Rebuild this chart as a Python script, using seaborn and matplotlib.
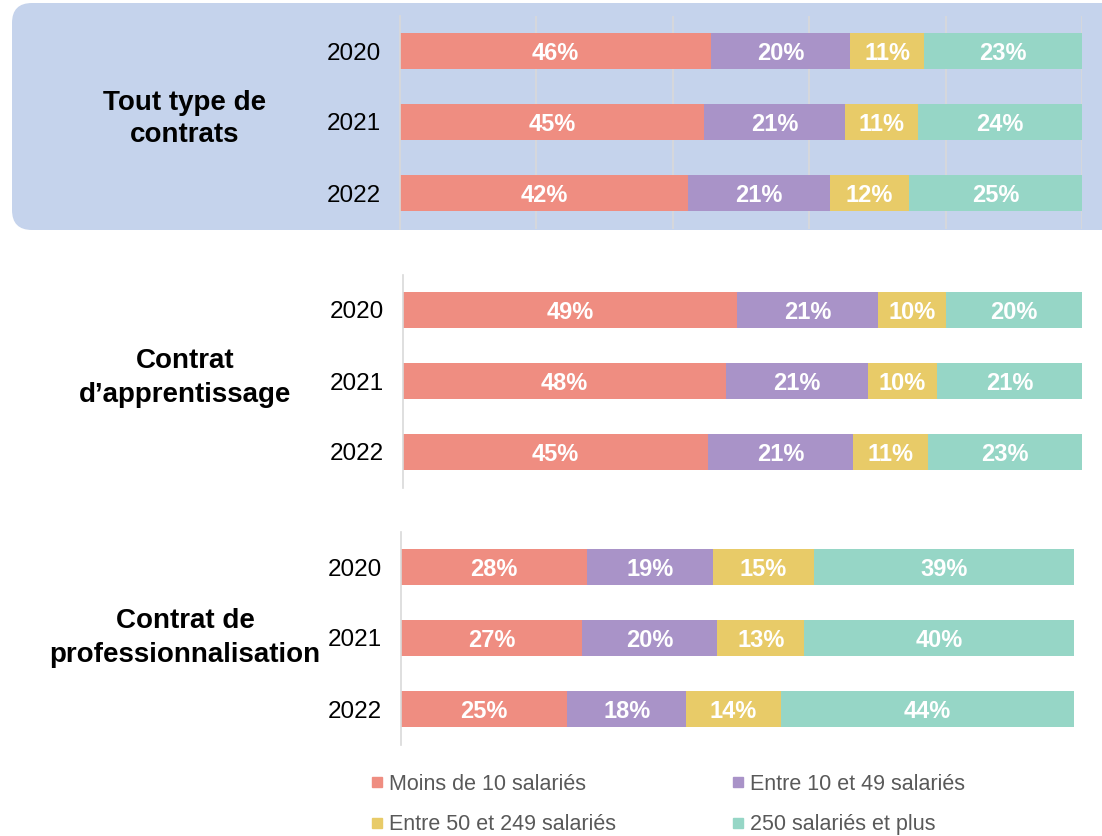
import matplotlib.pyplot as plt
import numpy as np
import pandas as pd
import seaborn as sns
from matplotlib.lines import Line2D
from matplotlib.patches import FancyBboxPatch

sns.set_style("white")
plt.rcParams["font.family"] = ["Liberation Sans", "DejaVu Sans"]
plt.rcParams["text.color"] = "black"

# data (shares in %)
years = ["2020", "2021", "2022"]
categories = ["Moins de 10 salariés", "Entre 10 et 49 salariés",
              "Entre 50 et 249 salariés", "250 salariés et plus"]
colors = ["#EF8D81", "#A993C8", "#E8CB68", "#96D6C6"]

group_titles = ["Tout type de\ncontrats", "Contrat\nd\u2019apprentissage",
                "Contrat de\nprofessionnalisation"]

tout_moins10 = [45.6, 44.6, 42.2]
tout_10_49 = [20.4, 20.7, 20.8]
tout_50_249 = [10.9, 10.7, 11.7]
tout_250 = [23.1, 24.0, 25.3]

appr_moins10 = [49.2, 47.6, 44.9]
appr_10_49 = [20.8, 20.9, 21.4]
appr_50_249 = [10.0, 10.1, 11.0]
appr_250 = [20.0, 21.4, 22.7]

pro_moins10 = [27.6, 26.9, 24.7]
pro_10_49 = [18.7, 20.1, 17.7]
pro_50_249 = [15.0, 12.9, 14.0]
pro_250 = [38.7, 40.1, 43.6]

panels = [
    [tout_moins10, tout_10_49, tout_50_249, tout_250],
    [appr_moins10, appr_10_49, appr_50_249, appr_250],
    [pro_moins10, pro_10_49, pro_50_249, pro_250],
]

W, H = 1102, 836
fig = plt.figure(figsize=(W / 100, H / 100), dpi=100)

# axes boxes in pixels: left, top, width, height
boxes = [(400, 15.5, 682, 213), (403, 274.5, 679, 213), (401, 531.5, 673, 213)]
title_pos = [(185, 119), (185, 378), (185, 638)]

# blue rounded background behind the first block
bg = FancyBboxPatch((0.12, (H - 230) / 100), 11.2, 2.27,
                    boxstyle="round,pad=0,rounding_size=0.2",
                    transform=fig.dpi_scale_trans, facecolor="#C5D3EC",
                    edgecolor="none", zorder=-10)
fig.patches.append(bg)

for k, (series, (l, t, w, h)) in enumerate(zip(panels, boxes)):
    ax = fig.add_axes([l / W, (H - t - h) / H, w / W, h / H])
    ax.set_facecolor("none")

    df = pd.DataFrame({"year": years})
    for name, vals in zip(categories, series):
        df[name] = vals
    cum = df[categories].cumsum(axis=1)

    # stacked bars: draw the cumulative totals from the largest down
    for name, c in reversed(list(zip(categories, colors))):
        sns.barplot(x=cum[name], y=df["year"], orient="h", color=c,
                    width=0.5, linewidth=0, saturation=1, ax=ax)

    for name in categories:
        for i in range(len(years)):
            v = df[name][i]
            ax.text(cum[name][i] - v / 2, i + 0.03, f"{v:.0f}%",
                    ha="center", va="center", color="white",
                    fontweight="bold", fontsize=17,
                    family=["Liberation Sans Narrow", "Liberation Sans"])

    ax.set_xlim(0, 100)
    ax.set_xlabel("")
    ax.set_ylabel("")
    ax.set_xticks([])
    ax.tick_params(axis="y", length=0, pad=14, labelsize=17.5,
                   labelcolor="black")
    for s in ["top", "right", "bottom"]:
        ax.spines[s].set_visible(False)
    ax.spines["left"].set_color("#D9D9D9")
    ax.spines["left"].set_linewidth(1.2)
    if k == 0:
        for gx in [20, 40, 60, 80, 100]:
            ax.axvline(gx, color="#D9D9D9", linewidth=1.2, zorder=0)

    tx, ty = title_pos[k]
    fig.text(tx / W, (H - ty) / H, group_titles[k], ha="center", va="center",
             fontsize=20, fontweight="bold", linespacing=1.35, color="black")

handles = [Line2D([], [], marker="s", linestyle="", markersize=7, color=c)
           for c in colors]
order = [0, 2, 1, 3]
leg = fig.legend([handles[i] for i in order], [categories[i] for i in order],
                 ncol=2, loc="upper left", bbox_to_anchor=(372 / W, (H - 774) / H),
                 frameon=False, fontsize=15.5, handlelength=0.5,
                 handletextpad=0.3, columnspacing=5.4, labelspacing=0.9,
                 borderpad=0, borderaxespad=0)
for txt in leg.get_texts():
    txt.set_color("#595959")

fig.savefig("out.png", dpi=100)
